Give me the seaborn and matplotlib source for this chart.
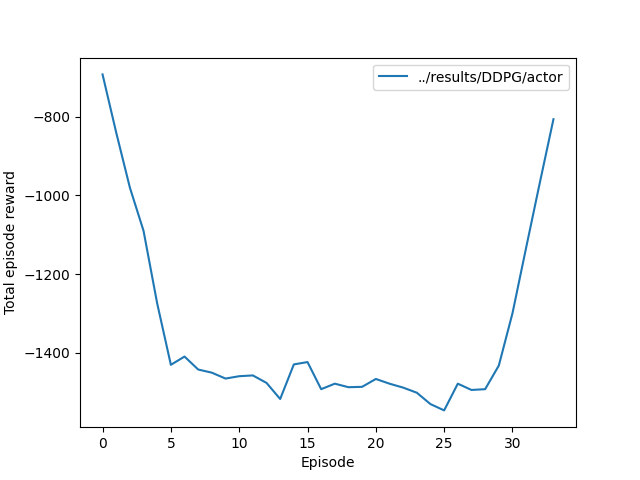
import matplotlib
matplotlib.use("Agg")
import matplotlib.pyplot as plt
import seaborn as sns
import pandas as pd

episodes = list(range(34))
rewards = [-692, -840, -980, -1090, -1275, -1431, -1410, -1443, -1451, -1466,
           -1460, -1458, -1477, -1518, -1430, -1424, -1493, -1479, -1488, -1487,
           -1467, -1479, -1489, -1502, -1531, -1547, -1479, -1495, -1493, -1433,
           -1300, -1133, -968, -806]
label = "../results/DDPG/actor"

df = pd.DataFrame({"Episode": episodes, "reward": rewards})

fig, ax = plt.subplots(figsize=(6.4, 4.8), dpi=100)
sns.lineplot(data=df, x="Episode", y="reward", ax=ax, label=label, color="#1f77b4")
ax.set_xlabel("Episode")
ax.set_ylabel("Total episode reward")
ax.legend(loc="upper right")
fig.savefig("out.png", dpi=100)
